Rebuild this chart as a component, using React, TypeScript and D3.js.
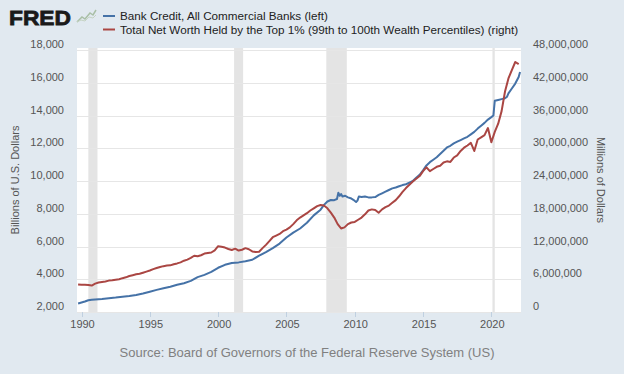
import React, { useEffect, useRef } from "react";
import * as d3 from "d3";

// Bank Credit, All Commercial Banks (billions, left axis)
const creditDates = [
  1989.75, 1990.0, 1990.25, 1990.5, 1990.75, 1991.0, 1991.5, 1992.0, 1992.5, 1993.0,
  1993.5, 1994.0, 1994.5, 1995.0, 1995.5, 1996.0, 1996.5, 1997.0, 1997.5, 1998.0,
  1998.5, 1999.0, 1999.5, 2000.0, 2000.5, 2001.0, 2001.5, 2002.0, 2002.5, 2003.0,
  2003.5, 2004.0, 2004.5, 2005.0, 2005.5, 2006.0, 2006.5, 2007.0, 2007.5, 2007.75,
  2008.0, 2008.25, 2008.5, 2008.7, 2008.8, 2008.9, 2009.0, 2009.1, 2009.3, 2009.5,
  2009.7, 2009.9, 2010.1, 2010.2, 2010.3, 2010.5, 2010.75, 2011.0, 2011.25, 2011.5,
  2011.75, 2012.0, 2012.25, 2012.5, 2012.75, 2013.0, 2013.25, 2013.5, 2013.75, 2014.0,
  2014.25, 2014.5, 2014.75, 2015.0, 2015.25, 2015.5, 2015.75, 2016.0, 2016.25, 2016.5,
  2016.75, 2017.0, 2017.25, 2017.5, 2017.75, 2018.0, 2018.25, 2018.5, 2018.75, 2019.0,
  2019.25, 2019.5, 2019.75, 2020.0, 2020.15, 2020.25, 2020.5, 2020.75, 2021.0, 2021.15,
  2021.25, 2021.5, 2021.75, 2022.0, 2022.1,
];
const creditValues = [
  2520, 2580, 2640, 2720, 2750, 2770, 2800, 2840, 2880, 2930,
  2980, 3040, 3130, 3240, 3350, 3450, 3540, 3660, 3760, 3900,
  4130, 4270, 4450, 4700, 4880, 4990, 5030, 5100, 5190, 5440,
  5650, 5900, 6180, 6550, 6850, 7100, 7450, 7900, 8250, 8540,
  8750, 8840, 8830, 8900, 9280, 9100, 9200, 9050, 9100, 9000,
  8950, 8850, 8720, 8800, 9050, 9020, 9050, 9000, 9000, 9020,
  9150, 9250, 9350, 9450, 9550, 9600, 9680, 9750, 9800, 9900,
  10000, 10200, 10380, 10650, 10950, 11150, 11300, 11450, 11650, 11850,
  12050, 12150, 12300, 12400, 12500, 12600, 12700, 12850, 13000, 13200,
  13380, 13550, 13750, 13900, 14000, 14900, 14950, 15000, 15050, 15150,
  15350, 15650, 15950, 16350, 16650,
];

// Total Net Worth Held by the Top 1% (millions, right axis), quarterly
const worthStart = 1989.75;
const worthValues = [
  5050000, 5000000, 5000000, 4950000, 4850000, 5200000, 5400000, 5500000, 5600000,
  5750000, 5800000, 5900000, 6000000, 6200000, 6350000, 6600000, 6750000,
  6900000, 7000000, 7200000, 7400000, 7600000, 7850000, 8050000, 8250000,
  8400000, 8500000, 8550000, 8750000, 8900000, 9100000, 9400000, 9600000,
  9900000, 10300000, 10200000, 10400000, 10700000, 10800000, 10900000, 11300000,
  12050000, 11950000, 11800000, 11550000, 11350000, 11600000, 11250000, 11400000,
  11700000, 11500000, 11100000, 11000000, 11050000, 11700000, 12300000, 13000000,
  13700000, 14000000, 14300000, 14800000, 15100000, 15500000, 16100000, 16800000,
  17300000, 17700000, 18100000, 18600000, 19000000, 19400000, 19600000, 19500000,
  19000000, 18200000, 17300000, 16100000, 15300000, 15500000, 16100000, 16400000,
  16500000, 16900000, 17300000, 17900000, 18600000, 18800000, 18700000, 18200000,
  18800000, 19200000, 19500000, 20000000, 20500000, 21200000, 22000000, 22700000,
  23300000, 23900000, 24400000, 24900000, 25800000, 26500000, 25800000, 26200000,
  26600000, 26800000, 27400000, 27600000, 27500000, 28300000, 28700000, 29500000,
  30100000, 30500000, 31000000, 29500000, 31600000, 32000000, 32400000, 33700000,
  31100000, 33000000, 34500000, 36800000, 40400000, 42800000, 44300000, 45800000,
  45400000,
];

const recessions = [
  [1990.5, 1991.17],
  [2001.17, 2001.83],
  [2007.92, 2009.42],
  [2020.08, 2020.25],
];

const leftTicks = [2000, 4000, 6000, 8000, 10000, 12000, 14000, 16000, 18000];
const rightTicks = [0, 6000000, 12000000, 18000000, 24000000, 30000000, 36000000, 42000000, 48000000];
const yearTicks = [1990, 1995, 2000, 2005, 2010, 2015, 2020];

const legendLabels = [
  "Bank Credit, All Commercial Banks (left)",
  "Total Net Worth Held by the Top 1% (99th to 100th Wealth Percentiles) (right)",
];
const blue = "#4572a7";
const red = "#aa4643";

const App = () => {
  const svgRef = useRef(null);

  useEffect(() => {
    const W = 624, H = 374;
    const plot = { left: 77, right: 521, top: 50, bottom: 312 };
    const font = "'Liberation Sans', Arial, sans-serif";

    const svg = d3.select(svgRef.current).attr("width", W).attr("height", H);
    svg.selectAll("*").remove();

    svg.append("rect").attr("width", W).attr("height", H).attr("fill", "#e1e9f0");
    svg.append("rect")
      .attr("x", plot.left).attr("y", plot.top - 2)
      .attr("width", plot.right - plot.left).attr("height", plot.bottom - plot.top + 2)
      .attr("fill", "#ffffff");

    const x = d3.scaleLinear().domain([1989.67, 2022.17]).range([plot.left, plot.right]);
    const yL = d3.scaleLinear().domain([2000, 18000]).range([plot.bottom, plot.top]);
    const yR = d3.scaleLinear().domain([0, 48000000]).range([plot.bottom, plot.top]);

    // recession bands
    svg.append("g").selectAll("rect").data(recessions).enter().append("rect")
      .attr("x", d => x(d[0]))
      .attr("y", plot.top - 2)
      .attr("width", d => x(d[1]) - x(d[0]))
      .attr("height", plot.bottom - plot.top + 2)
      .attr("fill", "#e4e4e4");

    // grid
    svg.append("g").selectAll("line").data(leftTicks).enter().append("line")
      .attr("x1", plot.left).attr("x2", plot.right)
      .attr("y1", d => Math.round(yL(d)) + 0.5).attr("y2", d => Math.round(yL(d)) + 0.5)
      .attr("stroke", "#e6e6e6");

    // x ticks
    svg.append("g").selectAll("line").data(yearTicks).enter().append("line")
      .attr("x1", d => Math.round(x(d)) + 0.5).attr("x2", d => Math.round(x(d)) + 0.5)
      .attr("y1", plot.bottom).attr("y2", plot.bottom + 5)
      .attr("stroke", "#c0d0e0");

    svg.append("g").selectAll("text").data(yearTicks).enter().append("text")
      .attr("x", d => x(d) + 1).attr("y", plot.bottom + 16)
      .attr("text-anchor", "middle")
      .attr("font-family", font).attr("font-size", 11).attr("fill", "#555")
      .text(d => d);

    const fmt = d3.format(",");
    svg.append("g").selectAll("text").data(leftTicks).enter().append("text")
      .attr("x", 64).attr("y", d => yL(d) - 2)
      .attr("text-anchor", "end")
      .attr("font-family", font).attr("font-size", 11).attr("fill", "#555")
      .text(d => fmt(d));

    svg.append("g").selectAll("text").data(rightTicks).enter().append("text")
      .attr("x", 533).attr("y", d => yR(d) - 2)
      .attr("font-family", font).attr("font-size", 11).attr("fill", "#555")
      .text(d => fmt(d));

    svg.append("text")
      .attr("transform", "translate(19,180) rotate(-90)")
      .attr("text-anchor", "middle")
      .attr("font-family", font).attr("font-size", 11).attr("fill", "#555")
      .text("Billions of U.S. Dollars");

    svg.append("text")
      .attr("transform", "translate(597,180) rotate(90)")
      .attr("text-anchor", "middle")
      .attr("font-family", font).attr("font-size", 11).attr("fill", "#555")
      .text("Millions of Dollars");

    // lines
    const creditLine = d3.line()
      .x((d, i) => x(creditDates[i]))
      .y(d => yL(d));
    svg.append("path").datum(creditValues)
      .attr("d", creditLine)
      .attr("fill", "none").attr("stroke", blue).attr("stroke-width", 2)
      .attr("stroke-linejoin", "round");

    const worthLine = d3.line()
      .x((d, i) => x(worthStart + i * 0.25))
      .y(d => yR(d));
    svg.append("path").datum(worthValues)
      .attr("d", worthLine)
      .attr("fill", "none").attr("stroke", red).attr("stroke-width", 2)
      .attr("stroke-linejoin", "round");

    // FRED logo
    svg.append("text")
      .attr("x", 9).attr("y", 25)
      .attr("font-family", font).attr("font-weight", "bold").attr("font-size", 21)
      .attr("textLength", 62).attr("lengthAdjust", "spacingAndGlyphs")
      .attr("fill", "#1a1a1a").attr("stroke", "#1a1a1a").attr("stroke-width", 0.8)
      .text("FRED");
    svg.append("path")
      .attr("d", "M77,22 L82,17 L85,19 L90,13 L93,15 L96,10")
      .attr("fill", "none").attr("stroke", "#a9bfa6").attr("stroke-width", 1.5);
    svg.append("path")
      .attr("d", "M77,22 L81,20 L85,21 L89,17 L93,18 L96,15")
      .attr("fill", "none").attr("stroke", "#c5d3c3").attr("stroke-width", 1);

    // legend
    const leg = svg.append("g");
    [blue, red].forEach((c, i) => {
      const ly = 16 + i * 13.5;
      leg.append("line")
        .attr("x1", 103).attr("x2", 115).attr("y1", ly).attr("y2", ly)
        .attr("stroke", c).attr("stroke-width", 2);
      leg.append("text")
        .attr("x", 120).attr("y", ly + 4)
        .attr("font-family", font).attr("font-size", 11.7).attr("fill", "#222")
        .text(legendLabels[i]);
    });

    svg.append("text")
      .attr("x", 307).attr("y", 357)
      .attr("text-anchor", "middle")
      .attr("font-family", font).attr("font-size", 13).attr("fill", "#808080")
      .text("Source: Board of Governors of the Federal Reserve System (US)");
  }, []);

  return <svg ref={svgRef} style={{ position: "absolute", left: 0, top: 0, display: "block" }}></svg>;
};

export default App;
